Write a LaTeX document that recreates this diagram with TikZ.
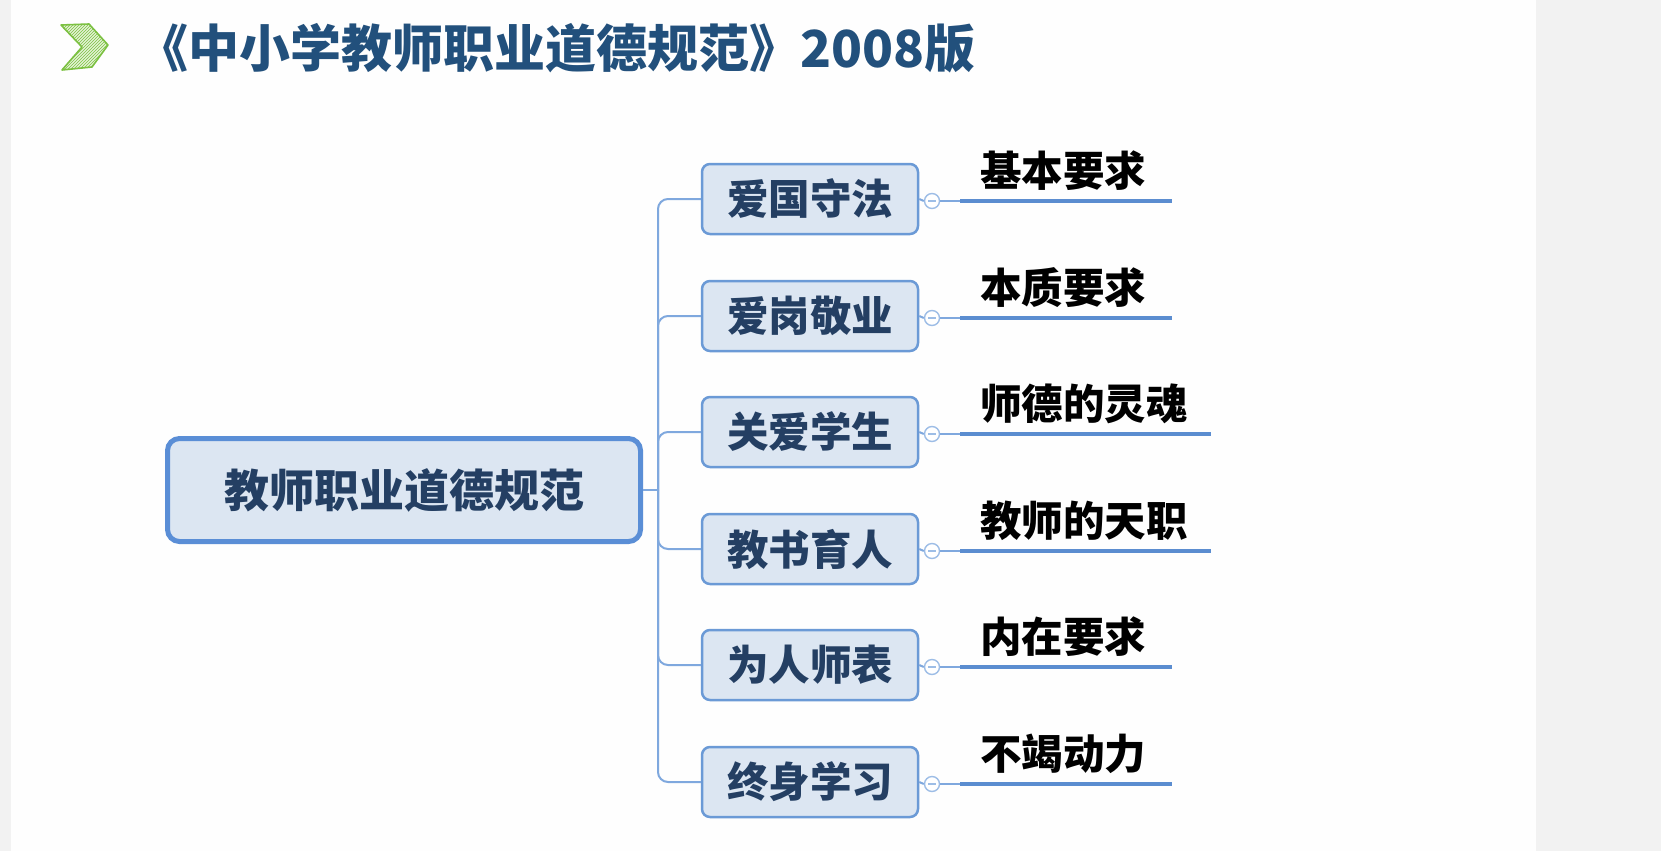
\documentclass[tikz,border=0pt]{standalone}
\usepackage{fontspec}
\newfontfamily\cjk{Noto Sans CJK SC}
\usetikzlibrary{patterns}
\definecolor{pagegray}{HTML}{F2F2F2}
\definecolor{titleblue}{HTML}{22507C}
\definecolor{navytext}{HTML}{243F63}
\definecolor{boxfill}{HTML}{DCE6F2}
\definecolor{boxline}{HTML}{6B9AD6}
\definecolor{rootline}{HTML}{5A8ED6}
\definecolor{linkblue}{HTML}{7FA8DE}
\definecolor{knobblue}{HTML}{9DBDE6}
\definecolor{ulblue}{HTML}{5B8DD0}
\definecolor{chevgreen}{HTML}{7CC142}
\definecolor{chevfill}{HTML}{E4F3D6}
\tikzset{
  rootbox/.style={draw=rootline, line width=5pt, fill=boxfill, rounded corners=12pt,
    minimum width=473pt, minimum height=103pt, inner sep=0pt,
    font=\cjk\bfseries\fontsize{45}{50}\selectfont, text=navytext},
  topicbox/.style={draw=boxline, line width=2.5pt, fill=boxfill, rounded corners=8pt,
    minimum width=216pt, minimum height=70pt, inner sep=0pt,
    font=\cjk\bfseries\fontsize{41.5}{46}\selectfont, text=navytext},
  notetext/.style={anchor=west, inner sep=0pt, text=black,
    font=\cjk\bfseries\fontsize{41.5}{46}\selectfont},
  knob/.style={circle, draw=knobblue, line width=1.4pt, fill=white,
    minimum size=15pt, inner sep=0pt},
  link/.style={draw=linkblue, line width=2pt},
  underline/.style={draw=ulblue, line width=4pt},
}
\begin{document}
\begin{tikzpicture}[x=1pt, y=-1pt]
  % page: gray margins, white slide
  \fill[pagegray] (0,0) rectangle (1661,851);
  \fill[white!99!gray] (11,0) rectangle (1536,851);
  \useasboundingbox (0,0) rectangle (1661,851);

  % heading chevron
  \filldraw[fill=chevfill, draw=chevgreen, line width=1.6pt, line join=round]
    (61,25) -- (89,24) -- (108,45) -- (92,67) -- (62,70) -- (82,47) -- cycle;
  \fill[pattern=north east lines, pattern color=chevgreen]
    (61,25) -- (89,24) -- (108,45) -- (92,67) -- (62,70) -- (82,47) -- cycle;

  % heading
  \node[anchor=west, inner sep=0pt, text=titleblue,
        font=\cjk\bfseries\fontsize{51}{56}\selectfont] (title) at (137,48)
    {《中小学教师职业道德规范》2008版};

  % central topic
  \node[rootbox] (root) at (404,490) {教师职业道德规范};
  \coordinate (trunk) at (658,490);
  \draw[link] (root.east) -- (trunk);

  % main topics
  \node[topicbox] (b1) at (810,199) {爱国守法};
  \node[topicbox] (b2) at (810,316) {爱岗敬业};
  \node[topicbox] (b3) at (810,432) {关爱学生};
  \node[topicbox] (b4) at (810,549) {教书育人};
  \node[topicbox] (b5) at (810,665) {为人师表};
  \node[topicbox] (b6) at (810,782) {终身学习};

  \foreach \i in {1,...,6}{
    \draw[link, rounded corners=10pt] (trunk) |- (b\i.west);
  }

  % notes: collapse knob, caption and underline
  \foreach \i/\y/\len/\txt in {1/201/1172/基本要求, 2/318/1172/本质要求,
      3/434/1211/师德的灵魂, 4/551/1211/教师的天职, 5/667/1172/内在要求,
      6/784/1172/不竭动力}{
    \node[knob] (k\i) at (932,\y) {};
    \draw[knobblue, line width=1.2pt] ([xshift=-4pt]k\i.center) -- ([xshift=4pt]k\i.center);
    \coordinate (ua\i) at (960,\y);
    \coordinate (ub\i) at (\len,\y);
    \node[notetext] (n\i) at (980,\y-30) {\txt};
    \draw[link] (b\i.east) -- (k\i.west);
    \draw[link] (k\i.east) -- (ua\i);
    \draw[underline] (ua\i) -- (ub\i);
  }
\end{tikzpicture}
\end{document}
